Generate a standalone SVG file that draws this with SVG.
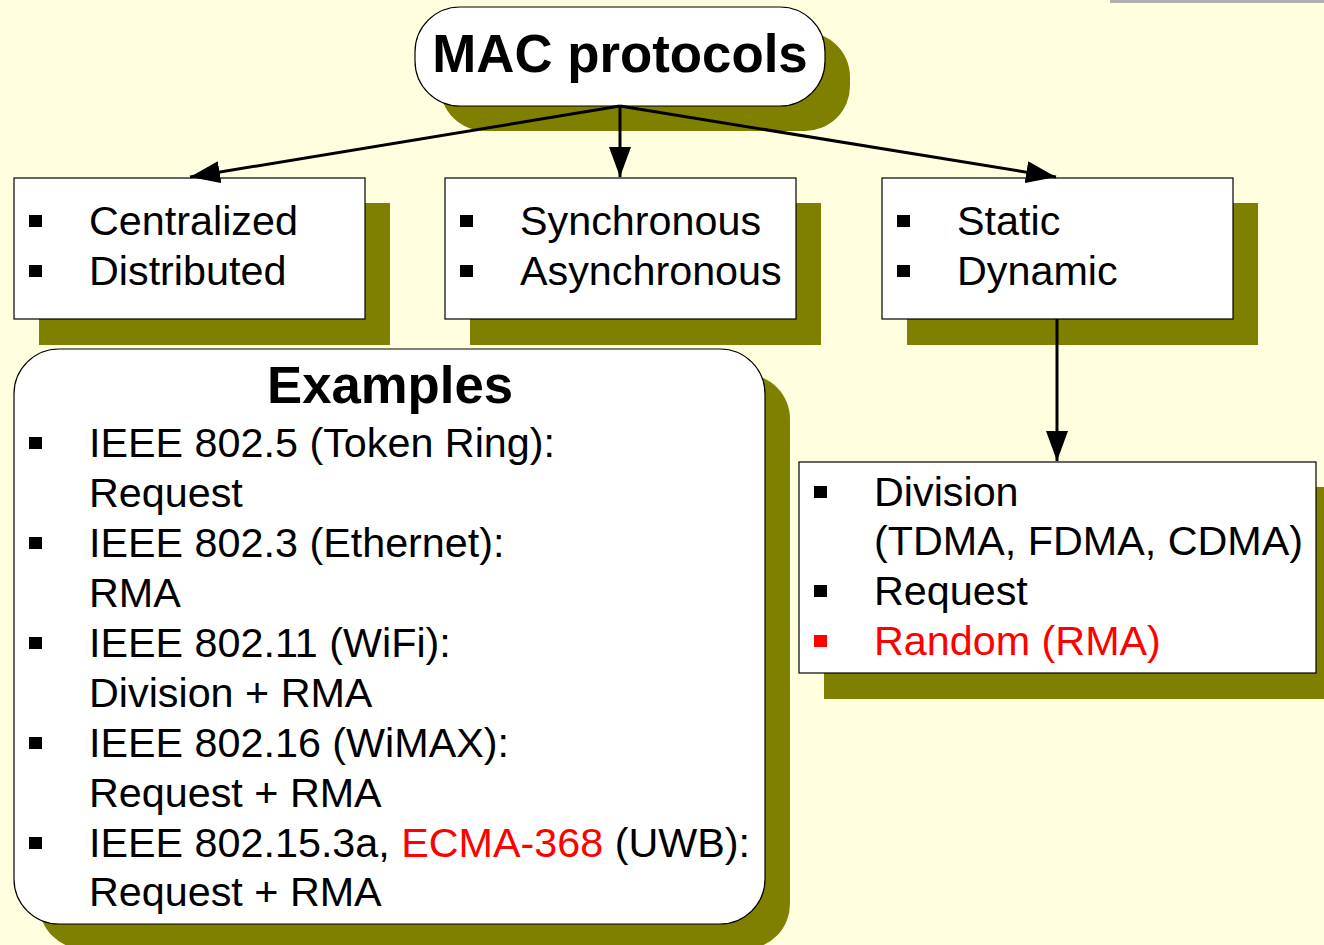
<svg xmlns="http://www.w3.org/2000/svg" width="1324" height="945" viewBox="0 0 1324 945">
<style>
.sh{fill:#808000}
.bx{fill:#fff;stroke:#000;stroke-width:1.2}
.t{font-family:"Liberation Sans",Arial,sans-serif;font-size:41.3px;fill:#000}
.b{font-family:"Liberation Sans",Arial,sans-serif;font-weight:bold;fill:#000;text-anchor:middle}
.red{fill:#f00}
.bl{fill:#000}
.ln{stroke:#000;stroke-width:3;fill:none}
</style>
<defs>
<marker id="ah" viewBox="0 0 10 10" refX="10" refY="5" markerUnits="userSpaceOnUse" markerWidth="30" markerHeight="22" orient="auto" preserveAspectRatio="none">
<path d="M0,0 L10,5 L0,10 z" fill="#000"/>
</marker>
</defs>
<rect width="1324" height="945" fill="#FFFFE0"/>
<rect x="1110" y="0" width="214" height="3" fill="#B0B0B0"/>

<g id="mac">
<rect class="sh" x="440" y="32" width="410" height="99" rx="45"/>
<rect class="bx" x="415" y="7" width="410" height="99" rx="45"/>
<text class="b" x="620" y="72" font-size="52.8">MAC protocols</text>
</g>

<g id="centralized">
<rect class="sh" x="39" y="203" width="351" height="142"/>
<rect class="bx" x="14" y="178" width="351" height="141"/>
<rect class="bl" x="29" y="215" width="13" height="12"/>
<rect class="bl" x="29" y="265" width="13" height="12"/>
<text class="t" x="89" y="235">Centralized</text>
<text class="t" x="89" y="285">Distributed</text>
</g>

<g id="synchronous">
<rect class="sh" x="470" y="203" width="351" height="142"/>
<rect class="bx" x="445" y="178" width="351" height="141"/>
<rect class="bl" x="460" y="215" width="13" height="12"/>
<rect class="bl" x="460" y="265" width="13" height="12"/>
<text class="t" x="520" y="235">Synchronous</text>
<text class="t" x="520" y="285">Asynchronous</text>
</g>

<g id="static">
<rect class="sh" x="907" y="203" width="351" height="142"/>
<rect class="bx" x="882" y="178" width="351" height="141"/>
<rect class="bl" x="897" y="215" width="13" height="12"/>
<rect class="bl" x="897" y="265" width="13" height="12"/>
<text class="t" x="957" y="235">Static</text>
<text class="t" x="957" y="285">Dynamic</text>
</g>

<g id="division">
<rect class="sh" x="824" y="487" width="517" height="212"/>
<rect class="bx" x="799" y="462" width="517" height="211"/>
<rect class="bl" x="814" y="486" width="13" height="12"/>
<rect class="bl" x="814" y="585" width="13" height="12"/>
<rect class="red" x="814" y="635" width="13" height="12"/>
<text class="t" x="874" y="506">Division</text>
<text class="t" x="874" y="555">(TDMA, FDMA, CDMA)</text>
<text class="t" x="874" y="605">Request</text>
<text class="t red" x="874" y="655">Random (RMA)</text>
</g>

<g id="examples">
<rect class="sh" x="39" y="374" width="751" height="575" rx="45"/>
<rect class="bx" x="14" y="349" width="751" height="575" rx="45"/>
<text class="b" x="390" y="403" font-size="52.7">Examples</text>
<rect class="bl" x="29" y="437" width="13" height="12"/>
<rect class="bl" x="29" y="537" width="13" height="12"/>
<rect class="bl" x="29" y="637" width="13" height="12"/>
<rect class="bl" x="29" y="737" width="13" height="12"/>
<rect class="bl" x="29" y="837" width="13" height="12"/>
<text class="t" x="89" y="457">IEEE 802.5 (Token Ring):</text>
<text class="t" x="89" y="507">Request</text>
<text class="t" x="89" y="557">IEEE 802.3 (Ethernet):</text>
<text class="t" x="89" y="607">RMA</text>
<text class="t" x="89" y="657">IEEE 802.11 (WiFi):</text>
<text class="t" x="89" y="707">Division + RMA</text>
<text class="t" x="89" y="757">IEEE 802.16 (WiMAX):</text>
<text class="t" x="89" y="807">Request + RMA</text>
<text class="t" x="89" y="857">IEEE 802.15.3a, <tspan class="red">ECMA-368</tspan> (UWB):</text>
<text class="t" x="89" y="906">Request + RMA</text>
</g>

<g id="connectors">
<line class="ln" x1="620" y1="106" x2="190" y2="177" marker-end="url(#ah)"/>
<line class="ln" x1="620" y1="106" x2="620" y2="177" marker-end="url(#ah)"/>
<line class="ln" x1="620" y1="106" x2="1056" y2="177" marker-end="url(#ah)"/>
<line class="ln" x1="1057" y1="319" x2="1057" y2="461" marker-end="url(#ah)"/>
</g>
</svg>
